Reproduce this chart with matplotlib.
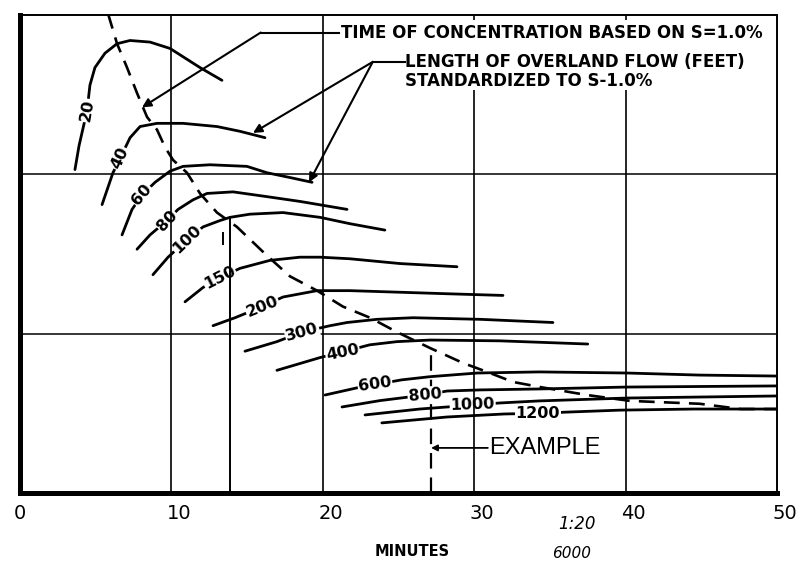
import numpy as np
import matplotlib.pyplot as plt
import matplotlib.transforms as mtransforms
from matplotlib.patches import Rectangle

# ==========================================
# OVERLAND FLOW CURVES (length in feet)
# x = minutes, y = unlabeled chart scale 0-3
# ==========================================

len20_x = [3.63, 3.90, 4.43, 4.62, 4.95, 5.61, 6.41, 7.27, 8.59, 9.91, 11.89, 13.34]
len20_y = [2.03, 2.18, 2.40, 2.56, 2.67, 2.76, 2.82, 2.84, 2.83, 2.79, 2.67, 2.59]

len40_x = [5.42, 6.14, 6.61, 7.27, 7.93, 9.05, 10.77, 13.01, 14.53, 16.18]
len40_y = [1.81, 2.01, 2.10, 2.23, 2.30, 2.32, 2.32, 2.30, 2.27, 2.23]

len60_x = [6.74, 7.40, 8.06, 8.92, 9.91, 10.77, 12.55, 14.99, 16.31, 17.83, 19.29]
len60_y = [1.62, 1.78, 1.87, 1.95, 2.02, 2.05, 2.06, 2.05, 2.01, 1.98, 1.95]

len80_x = [7.73, 8.59, 9.71, 10.44, 11.43, 12.35, 14.07, 16.31, 18.49, 21.6]
len80_y = [1.53, 1.62, 1.71, 1.78, 1.84, 1.88, 1.89, 1.86, 1.83, 1.78]

len100_x = [8.78, 9.78, 11.03, 12.09, 13.21, 13.87, 15.19, 17.37, 19.82, 21.8, 24.1]
len100_y = [1.37, 1.48, 1.59, 1.67, 1.71, 1.73, 1.75, 1.76, 1.73, 1.69, 1.65]

len150_x = [10.9, 12.09, 13.2, 14.53, 16.51, 18.49, 19.82, 21.8, 25.1, 28.86]
len150_y = [1.20, 1.29, 1.35, 1.41, 1.46, 1.48, 1.48, 1.47, 1.44, 1.42]

len200_x = [12.75, 14.2, 16.0, 17.37, 19.62, 21.8, 25.1, 28.4, 31.9]
len200_y = [1.05, 1.10, 1.17, 1.23, 1.27, 1.27, 1.26, 1.25, 1.24]

len300_x = [14.86, 16.97, 18.63, 20.48, 21.6, 23.58, 25.96, 30.4, 35.2]
len300_y = [0.89, 0.95, 1.01, 1.05, 1.07, 1.09, 1.10, 1.09, 1.07]

len400_x = [16.97, 19.82, 21.3, 23.1, 24.9, 27.1, 31.7, 37.5]
len400_y = [0.77, 0.85, 0.885, 0.93, 0.95, 0.96, 0.955, 0.935]

len600_x = [20.15, 22.26, 23.45, 25.2, 27.08, 30.2, 34.3, 40.1, 44.9, 50.0]
len600_y = [0.615, 0.66, 0.68, 0.71, 0.73, 0.753, 0.76, 0.753, 0.74, 0.734]

len800_x = [21.27, 23.78, 26.75, 28.2, 30.4, 34.3, 40.1, 50.0]
len800_y = [0.54, 0.58, 0.615, 0.64, 0.647, 0.653, 0.665, 0.672]

len1000_x = [22.79, 26.4, 29.9, 31.7, 34.3, 40.1, 50.0]
len1000_y = [0.49, 0.527, 0.552, 0.565, 0.578, 0.596, 0.609]

len1200_x = [23.9, 28.2, 32.0, 34.2, 36.2, 39.6, 44.5, 50.0]
len1200_y = [0.44, 0.477, 0.496, 0.50, 0.508, 0.52, 0.527, 0.527]

# time of concentration boundary (dashed)
tc_x = [5.81, 6.41, 7.07, 7.73, 8.39, 9.05, 9.58, 10.11, 11.03, 11.89, 13.01,
        14.33, 16.31, 17.83, 19.62, 21.33, 23.12, 24.9, 27.08, 29.26, 30.85,
        32.56, 34.35, 37.45, 40.3, 44.9, 47.6, 50.0]
tc_y = [3.01, 2.82, 2.67, 2.51, 2.36, 2.28, 2.17, 2.09, 2.01, 1.88, 1.76,
        1.67, 1.49, 1.36, 1.27, 1.17, 1.10, 1.01, 0.91, 0.816, 0.76,
        0.697, 0.665, 0.615, 0.578, 0.56, 0.527, 0.527]

lengths = ["20", "40", "60", "80", "100", "150", "200", "300", "400",
           "600", "800", "1000", "1200"]
curves_x = [len20_x, len40_x, len60_x, len80_x, len100_x, len150_x, len200_x,
            len300_x, len400_x, len600_x, len800_x, len1000_x, len1200_x]
curves_y = [len20_y, len40_y, len60_y, len80_y, len100_y, len150_y, len200_y,
            len300_y, len400_y, len600_y, len800_y, len1000_y, len1200_y]

# where each length label sits on its curve, and its tilt
label_pos = [(4.43, 2.40), (6.61, 2.10), (8.06, 1.87), (9.71, 1.71),
             (11.03, 1.59), (13.2, 1.35), (16.0, 1.17), (18.63, 1.01),
             (21.3, 0.885), (23.45, 0.68), (26.75, 0.615), (29.9, 0.552),
             (34.2, 0.50)]
label_rot = [80, 65, 50, 47, 44, 27, 22, 15, 11, 8, 5, 2, 0]

# worked example
example_min = 27.15
example_top = 0.91
solid_example_min = 13.87
solid_example_top = 1.73

minute_ticks = [0, 10, 20, 30, 40, 50]

# ==========================================
# FIGURE
# ==========================================

fig = plt.figure(figsize=(8.1, 5.63), dpi=100)
ax = fig.add_axes([20 / 810, 70 / 563, 757 / 810, 478 / 563])
ax.set_xlim(0, 50)
ax.set_ylim(0, 3)

# grid
for yv in [1, 2]:
    ax.axhline(yv, color="black", lw=1.1, zorder=1)
for xv in [10, 20, 30, 40]:
    ax.axvline(xv, color="black", lw=1.2, zorder=4)

for cx, cy in zip(curves_x, curves_y):
    ax.plot(cx, cy, color="black", lw=2.0, solid_capstyle="round",
            solid_joinstyle="round", zorder=2)

for text, (lx, ly), rot in zip(lengths, label_pos, label_rot):
    ax.text(lx, ly, text, rotation=rot, ha="center", va="center",
            fontsize=11.5, fontweight="bold", rotation_mode="anchor",
            bbox=dict(facecolor="white", edgecolor="none", pad=0.6),
            zorder=3)

ax.plot(tc_x, tc_y, color="black", lw=1.9, linestyle=(0, (6, 3.5)), zorder=2)

# example lines
ax.plot([example_min, example_min], [0, example_top], color="black", lw=1.6,
        linestyle=(0, (7, 4)), zorder=2)
ax.plot([solid_example_min, solid_example_min], [0, solid_example_top],
        color="black", lw=1.4, zorder=4)
ax.plot([13.41, 13.41], [1.56, 1.63], color="black", lw=1.4, zorder=4)

ax.annotate("", xy=(example_min, 0.283), xytext=(30.9, 0.283),
            arrowprops=dict(arrowstyle="-|>", color="black", lw=1.3,
                            mutation_scale=9, shrinkA=0, shrinkB=0),
            zorder=5)
ax.text(31.0, 0.283, "EXAMPLE", ha="left", va="center", fontsize=17,
        family="Liberation Sans", zorder=5)

# white area behind the legend text
ax.add_patch(Rectangle((21.0, 2.53), 28.6, 0.44, facecolor="white",
                       edgecolor="none", zorder=5))

ax.text(21.2, 2.89, "TIME OF CONCENTRATION BASED ON S=1.0%", ha="left",
        va="center", fontsize=12, fontweight="bold", zorder=6)
ax.text(25.45, 2.706, "LENGTH OF OVERLAND FLOW (FEET)", ha="left",
        va="center", fontsize=12, fontweight="bold", zorder=6)
ax.text(25.45, 2.586, "STANDARDIZED TO S-1.0%", ha="left",
        va="center", fontsize=12, fontweight="bold", zorder=6)

# leaders
ax.plot([21.1, 15.9], [2.89, 2.89], color="black", lw=1.5, zorder=6)
ax.annotate("", xy=(8.06, 2.42), xytext=(15.9, 2.89),
            arrowprops=dict(arrowstyle="-|>", color="black", lw=1.5,
                            mutation_scale=13, shrinkA=0, shrinkB=0),
            zorder=6)
ax.plot([25.4, 23.3], [2.706, 2.706], color="black", lw=1.5, zorder=6)
for tip in [(15.39, 2.26), (19.09, 1.95)]:
    ax.annotate("", xy=tip, xytext=(23.3, 2.706),
                arrowprops=dict(arrowstyle="-|>", color="black", lw=1.5,
                                mutation_scale=13, shrinkA=0, shrinkB=0),
                zorder=6)

# frame
for side in ["left", "bottom"]:
    ax.spines[side].set_linewidth(3.6)
for side in ["top", "right"]:
    ax.spines[side].set_linewidth(1.4)
for sp in ax.spines.values():
    sp.set_zorder(10)

ax.set_yticks([])
ax.set_xticks(minute_ticks)
ax.set_xticklabels([str(t) for t in minute_ticks], fontsize=14)
ax.tick_params(axis="x", length=0, pad=8)
shift = mtransforms.ScaledTranslation(8 / 100, 0, fig.dpi_scale_trans)
for lab in ax.get_xticklabels()[1:]:
    lab.set_transform(lab.get_transform() + shift)

fig.text(412 / 810, 1 - 552 / 563, "MINUTES", ha="center", va="center",
         fontsize=10.5, fontweight="bold")
fig.text(577 / 810, 1 - 524 / 563, "1:20", ha="center", va="center",
         fontsize=12, style="italic")
fig.text(572 / 810, 1 - 553 / 563, "6000", ha="center", va="center",
         fontsize=11, style="italic")

plt.savefig("out.png", dpi=100, facecolor="white")
